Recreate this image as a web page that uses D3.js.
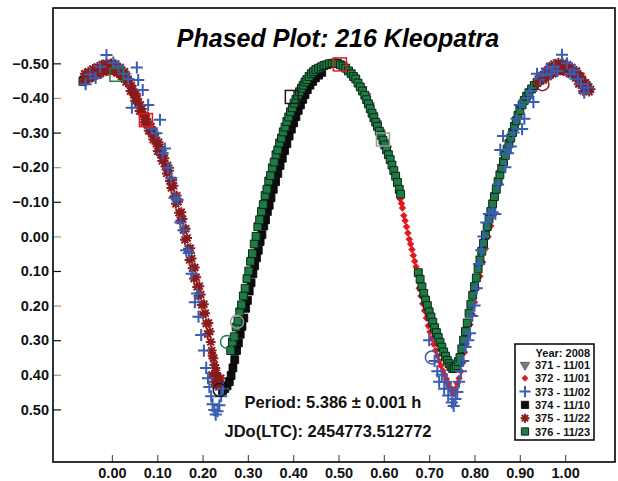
<!DOCTYPE html>
<html>
<head>
<meta charset="utf-8">
<script src="https://cdn.jsdelivr.net/npm/d3@7"></script>
<style>
    body { margin: 0; background: #fff; }
    svg { display: block; font-family: 'Liberation Sans', Arial, sans-serif; }
</style>
</head>
<body>
<svg id="chart" width="618" height="481"></svg>
<script>
const chartTitle = 'Phased Plot: 216 Kleopatra'
const periodText = 'Period: 5.386 \u00b1 0.001 h'
const epochText = 'JDo(LTC): 2454773.512772'
const legendTitle = 'Year: 2008'

const sessions = ['371', '372', '373', '374', '375', '376']
const sessionDates = ['11/01', '11/01', '11/02', '11/10', '11/22', '11/23']

const xTicks = [0, 0.1, 0.2, 0.3, 0.4, 0.5, 0.6, 0.7, 0.8, 0.9, 1.0]
const yTicks = [-0.5, -0.4, -0.3, -0.2, -0.1, 0, 0.1, 0.2, 0.3, 0.4, 0.5]

// [phase, mag]
const series371 = [
    [0.552, -0.425], [0.560, -0.405], [0.568, -0.378], [0.576, -0.350], [0.584, -0.326],
    [0.592, -0.300], [0.600, -0.272], [0.606, -0.252]
]

const series372 = [
    [0.632, -0.126], [0.636, -0.108], [0.639, -0.095],
    [0.641, -0.082], [0.644, -0.060], [0.647, -0.045],
    [0.650, -0.028], [0.653, -0.010], [0.656, 0.008], [0.659, 0.022], [0.662, 0.038],
    [0.665, 0.055], [0.668, 0.072], [0.671, 0.088], [0.674, 0.110], [0.678, 0.150],
    [0.682, 0.172], [0.686, 0.195], [0.690, 0.215], [0.694, 0.236], [0.698, 0.258],
    [0.702, 0.276], [0.706, 0.295], [0.710, 0.312], [0.714, 0.330], [0.718, 0.345],
    [0.722, 0.360], [0.726, 0.374], [0.730, 0.388], [0.734, 0.400], [0.738, 0.412],
    [0.742, 0.425], [0.746, 0.436], [0.750, 0.446], [0.754, 0.455], [0.758, 0.440],
    [0.762, 0.425], [0.766, 0.410], [0.770, 0.390], [0.774, 0.365], [0.778, 0.335],
    [0.782, 0.310], [0.786, 0.285], [0.790, 0.255], [0.795, 0.225], [0.800, 0.190],
    [0.806, 0.150], [0.812, 0.115], [0.818, 0.075], [0.824, 0.035], [0.830, 0.000],
    [0.836, -0.030], [0.842, -0.062]
]

const series373 = [
    [-0.058, -0.440], [-0.048, -0.468], [-0.036, -0.458], [-0.026, -0.490], [-0.012, -0.524],
    [0.003, -0.502], [0.014, -0.492], [0.026, -0.470], [0.036, -0.455], [0.044, -0.372],
    [0.055, -0.488], [0.058, -0.452], [0.068, -0.423], [0.080, -0.380], [0.088, -0.312],
    [0.098, -0.298], [0.106, -0.337], [0.112, -0.240], [0.117, -0.254], [0.124, -0.198],
    [0.131, -0.168], [0.138, -0.112], [0.145, -0.106], [0.151, -0.040], [0.158, -0.018],
    [0.164, 0.040], [0.170, 0.048], [0.176, 0.108], [0.183, 0.190], [0.188, 0.165],
    [0.191, 0.232], [0.197, 0.285], [0.203, 0.330], [0.208, 0.380], [0.212, 0.410],
    [0.215, 0.435], [0.219, 0.462], [0.222, 0.485], [0.226, 0.502], [0.229, 0.515],
    [0.233, 0.505], [0.237, 0.488], [0.241, 0.462], [0.245, 0.440],
    [0.700, 0.300], [0.712, 0.360], [0.718, 0.390], [0.722, 0.420], [0.728, 0.400],
    [0.733, 0.440], [0.738, 0.420], [0.742, 0.460], [0.747, 0.440], [0.750, 0.480],
    [0.754, 0.490], [0.758, 0.470], [0.762, 0.450], [0.766, 0.420], [0.770, 0.390],
    [0.775, 0.360], [0.780, 0.320], [0.786, 0.300], [0.790, 0.280], [0.795, 0.230],
    [0.800, 0.200], [0.805, 0.150], [0.810, 0.080], [0.815, 0.040], [0.820, 0.000],
    [0.826, -0.040], [0.832, -0.065], [0.840, -0.070], [0.846, -0.065], [0.852, -0.150],
    [0.857, -0.250], [0.863, -0.290], [0.868, -0.200], [0.874, -0.240], [0.880, -0.260],
    [0.886, -0.300], [0.893, -0.340], [0.900, -0.380], [0.905, -0.310], [0.910, -0.340],
    [0.918, -0.400], [0.925, -0.420], [0.930, -0.388], [0.938, -0.470], [0.945, -0.455],
    [0.952, -0.465], [0.960, -0.485], [0.968, -0.470], [0.975, -0.490], [0.983, -0.478],
    [0.993, -0.525], [1.004, -0.500], [1.012, -0.470], [1.020, -0.480], [1.028, -0.455],
    [1.035, -0.440], [1.042, -0.415], [1.050, -0.430]
]

const series374 = [
    [-0.062, -0.452], [-0.050, -0.462], [-0.038, -0.472], [-0.026, -0.480], [-0.014, -0.486],
    [-0.002, -0.488],
    [0.244, 0.446], [0.249, 0.440], [0.254, 0.432], [0.259, 0.420], [0.263, 0.402],
    [0.267, 0.380], [0.271, 0.356], [0.275, 0.330], [0.279, 0.308], [0.283, 0.283],
    [0.287, 0.260], [0.291, 0.236], [0.295, 0.208], [0.299, 0.185], [0.303, 0.158],
    [0.307, 0.134], [0.311, 0.108], [0.315, 0.085], [0.319, 0.062], [0.323, 0.040],
    [0.327, 0.015], [0.331, -0.005], [0.335, -0.030], [0.339, -0.048], [0.343, -0.072],
    [0.347, -0.090], [0.351, -0.112], [0.356, -0.136], [0.361, -0.158], [0.366, -0.182],
    [0.371, -0.205], [0.376, -0.226], [0.381, -0.248], [0.386, -0.268], [0.391, -0.290],
    [0.396, -0.310], [0.401, -0.328], [0.406, -0.346], [0.411, -0.364], [0.416, -0.380],
    [0.421, -0.396], [0.426, -0.410], [0.431, -0.424], [0.437, -0.437], [0.443, -0.448],
    [0.449, -0.458], [0.456, -0.466], [0.463, -0.474]
]

const series375 = [
    [-0.062, -0.448], [-0.056, -0.462], [-0.050, -0.455], [-0.045, -0.470], [-0.040, -0.462],
    [-0.034, -0.478], [-0.029, -0.468], [-0.024, -0.485], [-0.019, -0.474], [-0.014, -0.492],
    [-0.009, -0.478], [-0.004, -0.496], [0.001, -0.480], [0.006, -0.490], [0.011, -0.472],
    [0.016, -0.484], [0.021, -0.462], [0.026, -0.470], [0.031, -0.446], [0.036, -0.452],
    [0.041, -0.420], [0.046, -0.425], [0.051, -0.392], [0.056, -0.398], [0.061, -0.362],
    [0.066, -0.368], [0.071, -0.330], [0.076, -0.340], [0.081, -0.305], [0.086, -0.316],
    [0.091, -0.280], [0.096, -0.286], [0.101, -0.246], [0.106, -0.258], [0.111, -0.218],
    [0.116, -0.226], [0.121, -0.182], [0.126, -0.190], [0.131, -0.140], [0.136, -0.146],
    [0.141, -0.094], [0.146, -0.100], [0.151, -0.046], [0.156, -0.050], [0.161, 0.010],
    [0.166, 0.005], [0.171, 0.068], [0.176, 0.064], [0.181, 0.122], [0.186, 0.118],
    [0.191, 0.172], [0.196, 0.168], [0.201, 0.226], [0.206, 0.222], [0.211, 0.282],
    [0.216, 0.275], [0.220, 0.330], [0.224, 0.352], [0.228, 0.380], [0.232, 0.405],
    [0.236, 0.418], [0.240, 0.410],
    [-0.060, -0.470], [-0.052, -0.476], [-0.042, -0.484], [-0.032, -0.490], [-0.022, -0.496],
    [-0.012, -0.500], [-0.002, -0.500], [0.008, -0.498], [0.018, -0.488], [0.028, -0.476],
    [0.033, -0.462], [0.038, -0.440], [0.043, -0.436], [0.048, -0.410], [0.053, -0.412],
    [0.058, -0.384], [0.063, -0.380], [0.068, -0.352], [0.073, -0.350], [0.078, -0.322],
    [0.083, -0.326], [0.088, -0.296], [0.093, -0.300], [0.098, -0.268], [0.103, -0.272],
    [0.108, -0.236], [0.113, -0.240], [0.118, -0.202], [0.123, -0.205], [0.128, -0.160],
    [0.133, -0.162], [0.138, -0.116], [0.143, -0.118], [0.148, -0.068], [0.153, -0.070],
    [0.158, -0.018], [0.163, -0.022], [0.168, 0.036], [0.173, 0.034], [0.178, 0.092],
    [0.183, 0.090], [0.188, 0.146], [0.193, 0.144], [0.198, 0.198], [0.203, 0.196],
    [0.208, 0.252], [0.213, 0.250], [0.218, 0.305], [0.221, 0.400], [0.222, 0.345],
    [0.226, 0.372], [0.226, 0.420], [0.230, 0.395], [0.230, 0.432], [0.234, 0.425],
    [0.238, 0.430],
    [0.940, -0.446], [0.946, -0.458], [0.952, -0.452], [0.958, -0.470], [0.963, -0.462],
    [0.968, -0.480], [0.973, -0.470], [0.978, -0.488], [0.983, -0.476], [0.988, -0.494],
    [0.993, -0.480], [0.998, -0.490], [1.003, -0.474], [1.008, -0.486], [1.013, -0.468],
    [1.018, -0.476], [1.023, -0.458], [1.028, -0.466], [1.033, -0.446], [1.038, -0.452],
    [1.043, -0.430], [1.048, -0.438], [1.053, -0.418], [1.056, -0.425],
    [0.943, -0.462], [0.955, -0.476], [0.965, -0.490], [0.975, -0.498], [0.985, -0.502],
    [0.995, -0.500], [1.005, -0.496], [1.015, -0.488], [1.025, -0.478], [1.035, -0.462],
    [1.045, -0.444], [1.052, -0.432], [1.040, -0.420], [1.030, -0.440]
]

const series376 = [
    [-0.064, -0.448], [-0.058, -0.455], [-0.052, -0.460], [-0.046, -0.466], [-0.040, -0.470],
    [-0.034, -0.474], [-0.027, -0.478], [-0.020, -0.481], [-0.012, -0.483], [-0.004, -0.483],
    [0.004, -0.481], [0.012, -0.476], [0.020, -0.470], [0.026, -0.464],
    [0.262, 0.330], [0.266, 0.305], [0.270, 0.290], [0.274, 0.262], [0.278, 0.245],
    [0.282, 0.218], [0.286, 0.198], [0.290, 0.172], [0.294, 0.150], [0.298, 0.122],
    [0.302, 0.100], [0.306, 0.072], [0.310, 0.050], [0.314, 0.022], [0.318, 0.000],
    [0.322, -0.028], [0.326, -0.048], [0.330, -0.072], [0.334, -0.092], [0.338, -0.118],
    [0.342, -0.136], [0.346, -0.160], [0.350, -0.176], [0.354, -0.198], [0.358, -0.215],
    [0.362, -0.236], [0.366, -0.250], [0.370, -0.270], [0.374, -0.284], [0.378, -0.302],
    [0.382, -0.316], [0.386, -0.332], [0.390, -0.345], [0.394, -0.360], [0.398, -0.372],
    [0.402, -0.385], [0.406, -0.396], [0.410, -0.408], [0.414, -0.418], [0.418, -0.428],
    [0.422, -0.437], [0.426, -0.446], [0.430, -0.453], [0.435, -0.462], [0.440, -0.470],
    [0.445, -0.476], [0.450, -0.482], [0.456, -0.486], [0.462, -0.490], [0.468, -0.494],
    [0.474, -0.496], [0.480, -0.499], [0.486, -0.500], [0.492, -0.501], [0.498, -0.500],
    [0.504, -0.496], [0.510, -0.492], [0.516, -0.486], [0.522, -0.478], [0.528, -0.470],
    [0.533, -0.462], [0.538, -0.455], [0.543, -0.443], [0.548, -0.432], [0.553, -0.420],
    [0.558, -0.408], [0.562, -0.395], [0.566, -0.383], [0.570, -0.369], [0.574, -0.356],
    [0.578, -0.343], [0.582, -0.330], [0.586, -0.318], [0.590, -0.304], [0.594, -0.292],
    [0.598, -0.278], [0.602, -0.264], [0.606, -0.250], [0.610, -0.236], [0.614, -0.222],
    [0.618, -0.206], [0.622, -0.190], [0.626, -0.174], [0.630, -0.156], [0.634, -0.136],
    [0.637, -0.122],
    [0.676, 0.105], [0.680, 0.124], [0.684, 0.146], [0.688, 0.165], [0.692, 0.184],
    [0.696, 0.200], [0.700, 0.218], [0.704, 0.233], [0.708, 0.248], [0.712, 0.264],
    [0.716, 0.278], [0.720, 0.292], [0.724, 0.306], [0.728, 0.320], [0.732, 0.334],
    [0.736, 0.346], [0.740, 0.358], [0.744, 0.368], [0.748, 0.376], [0.752, 0.382],
    [0.756, 0.380], [0.760, 0.374], [0.764, 0.362],
    [0.768, 0.350], [0.772, 0.325], [0.776, 0.300], [0.780, 0.275], [0.784, 0.250],
    [0.788, 0.222], [0.792, 0.196], [0.796, 0.170], [0.800, 0.145], [0.804, 0.120],
    [0.808, 0.094], [0.812, 0.068], [0.816, 0.043], [0.820, 0.020], [0.824, -0.004],
    [0.828, -0.028], [0.832, -0.050], [0.836, -0.072], [0.840, -0.094], [0.844, -0.115],
    [0.848, -0.136], [0.852, -0.158], [0.856, -0.178], [0.860, -0.197], [0.864, -0.216],
    [0.868, -0.234], [0.872, -0.252], [0.876, -0.268], [0.880, -0.284], [0.884, -0.300],
    [0.888, -0.318], [0.892, -0.334], [0.896, -0.350], [0.900, -0.364], [0.905, -0.380],
    [0.910, -0.393], [0.915, -0.405], [0.920, -0.415], [0.926, -0.426], [0.932, -0.436],
    [0.938, -0.445], [0.944, -0.452], [0.950, -0.459], [0.956, -0.465], [0.962, -0.470],
    [0.968, -0.474], [0.975, -0.478], [0.982, -0.481], [0.990, -0.483], [0.998, -0.483],
    [1.006, -0.480], [1.014, -0.476], [1.022, -0.470], [1.030, -0.462]
]

// first point of a session, drawn as a large open marker
const openMarks = [
    ['374', 0.238, 0.444, 'circle'],
    ['376', 0.254, 0.305, 'circle'],
    ['371', 0.276, 0.247, 'circle'],
    ['373', 0.706, 0.350, 'circle'],
    ['375', 0.950, -0.440, 'circle'],
    ['372', 0.075, -0.336, 'square'],
    ['376', 0.010, -0.467, 'square'],
    ['371', 0.598, -0.280, 'square'],
    ['372', 0.503, -0.497, 'square'],
    ['374', 0.397, -0.403, 'square']
]

const seriesData = {
    371: series371, 372: series372, 373: series373,
    374: series374, 375: series375, 376: series376
}

// eight spoked star, like the session 375 marks
const symbolStar = {
    draw (context, size) {
        const r = Math.sqrt(size) * 0.62
        for (let i = 0; i < 4; i++) {
            const a = i * Math.PI / 4
            context.moveTo(-r * Math.cos(a), -r * Math.sin(a))
            context.lineTo(r * Math.cos(a), r * Math.sin(a))
        }
    }
}

const markers = {
    371: { type: d3.symbolTriangle, size: 44, angle: 180, fill: '#7b7b7b', stroke: '#505050', width: 0.8, open: '#9a9a9a' },
    372: { type: d3.symbolSquare, size: 28, angle: 45, fill: '#e3191c', stroke: 'none', width: 0, open: '#e3191c' },
    373: { type: d3.symbolPlus, size: 50, angle: 0, fill: 'none', stroke: '#3a5db4', width: 2, open: '#3a5db4' },
    374: { type: d3.symbolSquare, size: 62, angle: 0, fill: '#0d0d0d', stroke: '#000', width: 0.8, open: '#1a1a1a' },
    375: { type: symbolStar, size: 62, angle: 0, fill: 'none', stroke: '#8b1a1a', width: 2, open: '#8b1a1a' },
    376: { type: d3.symbolSquare, size: 62, angle: 0, fill: '#1e7b45', stroke: '#0b2614', width: 1, open: '#1e7b45' }
}

const drawOrder = ['371', '374', '372', '376', '375', '373']

const svg = d3.select('#chart')

const x = d3.scaleLinear().domain([-0.13, 1.11]).range([53, 615])
const y = d3.scaleLinear().domain([-0.66, 0.652]).range([8, 462])

const fmt = d3.format('.2f')

const drawSymbol = (g, key, px, py) => {
    const m = markers[key]
    g.append('path')
        .attr('d', d3.symbol().type(m.type).size(m.size * 0.85)())
        .attr('transform', `translate(${px},${py}) rotate(${m.angle})`)
        .attr('fill', m.fill)
        .attr('stroke', m.stroke)
        .attr('stroke-width', m.width)
}

// axes
const xAxis = svg.append('g')
    .attr('transform', 'translate(0,462)')
    .call(d3.axisBottom(x)
        .tickValues(xTicks)
        .tickFormat(fmt)
        .tickSizeInner(-7)
        .tickSizeOuter(0)
        .tickPadding(6))

xAxis.select('.domain').remove()
xAxis.selectAll('.tick line').attr('stroke', '#555').attr('stroke-width', 1.2)
xAxis.selectAll('.tick text')
    .attr('font-size', 14.5)
    .attr('font-weight', 'bold')
    .attr('font-family', "'Liberation Sans', Arial, sans-serif")
    .attr('fill', '#111')

const yAxis = svg.append('g')
    .attr('transform', 'translate(53,0)')
    .call(d3.axisLeft(y)
        .tickValues(yTicks)
        .tickFormat(fmt)
        .tickSizeInner(-8)
        .tickSizeOuter(0)
        .tickPadding(4))

yAxis.select('.domain').remove()
yAxis.selectAll('.tick line')
    .attr('stroke', d => Math.abs(Math.round(d * 10)) % 2 === 1 ? '#111' : '#999')
    .attr('stroke-width', 1.2)
yAxis.selectAll('.tick text')
    .attr('font-size', 14.5)
    .attr('font-weight', 'bold')
    .attr('font-family', "'Liberation Sans', Arial, sans-serif")
    .attr('fill', '#111')

// frame
svg.append('rect')
    .attr('x', x.range()[0])
    .attr('y', y.range()[0])
    .attr('width', x.range()[1] - x.range()[0])
    .attr('height', y.range()[1] - y.range()[0])
    .attr('fill', 'none')
    .attr('stroke', '#000')
    .attr('stroke-width', 1.6)

// points
drawOrder.forEach(key => {
    const m = markers[key]
    svg.append('g')
        .attr('class', 'session-' + key)
        .selectAll('path')
        .data(seriesData[key])
        .join('path')
        .attr('d', d3.symbol().type(m.type).size(m.size)())
        .attr('transform', d => `translate(${x(d[0])},${y(d[1])}) rotate(${m.angle})`)
        .attr('fill', m.fill)
        .attr('stroke', m.stroke)
        .attr('stroke-width', m.width)
})

const opens = svg.append('g').attr('class', 'open-marks')

opens.selectAll('circle')
    .data(openMarks.filter(d => d[3] === 'circle'))
    .join('circle')
    .attr('cx', d => x(d[1]))
    .attr('cy', d => y(d[2]))
    .attr('r', 6.5)
    .attr('fill', 'none')
    .attr('stroke', d => markers[d[0]].open)
    .attr('stroke-width', 1.5)

opens.selectAll('rect')
    .data(openMarks.filter(d => d[3] === 'square'))
    .join('rect')
    .attr('x', d => x(d[1]) - 6.5)
    .attr('y', d => y(d[2]) - 6.5)
    .attr('width', 13)
    .attr('height', 13)
    .attr('fill', 'none')
    .attr('stroke', d => markers[d[0]].open)
    .attr('stroke-width', 1.5)

// texts
svg.append('text')
    .attr('x', 338)
    .attr('y', 47)
    .attr('text-anchor', 'middle')
    .attr('font-size', 25)
    .attr('font-weight', 'bold')
    .attr('font-style', 'italic')
    .attr('fill', '#000')
    .text(chartTitle)

svg.append('text')
    .attr('x', 333)
    .attr('y', 408)
    .attr('text-anchor', 'middle')
    .attr('font-size', 16.5)
    .attr('font-weight', 'bold')
    .attr('fill', '#111')
    .text(periodText)

svg.append('text')
    .attr('x', 328)
    .attr('y', 437)
    .attr('text-anchor', 'middle')
    .attr('font-size', 16.5)
    .attr('font-weight', 'bold')
    .attr('fill', '#111')
    .text(epochText)

// legend
const legend = svg.append('g').attr('class', 'legend')

legend.append('rect')
    .attr('x', 515)
    .attr('y', 344)
    .attr('width', 79)
    .attr('height', 96)
    .attr('fill', '#fff')
    .attr('stroke', '#000')
    .attr('stroke-width', 1.5)

legend.append('text')
    .attr('x', 590)
    .attr('y', 357)
    .attr('text-anchor', 'end')
    .attr('font-size', 11)
    .attr('font-weight', 'bold')
    .attr('fill', '#111')
    .text(legendTitle)

sessions.forEach((key, i) => {
    const rowY = 369 + i * 13.3
    drawSymbol(legend, key, 525, rowY - 4)
    legend.append('text')
        .attr('x', 535)
        .attr('y', rowY)
        .attr('font-size', 11)
        .attr('font-weight', 'bold')
        .attr('fill', '#111')
        .text(key + ' - ' + sessionDates[i])
})
</script>
</body>
</html>
